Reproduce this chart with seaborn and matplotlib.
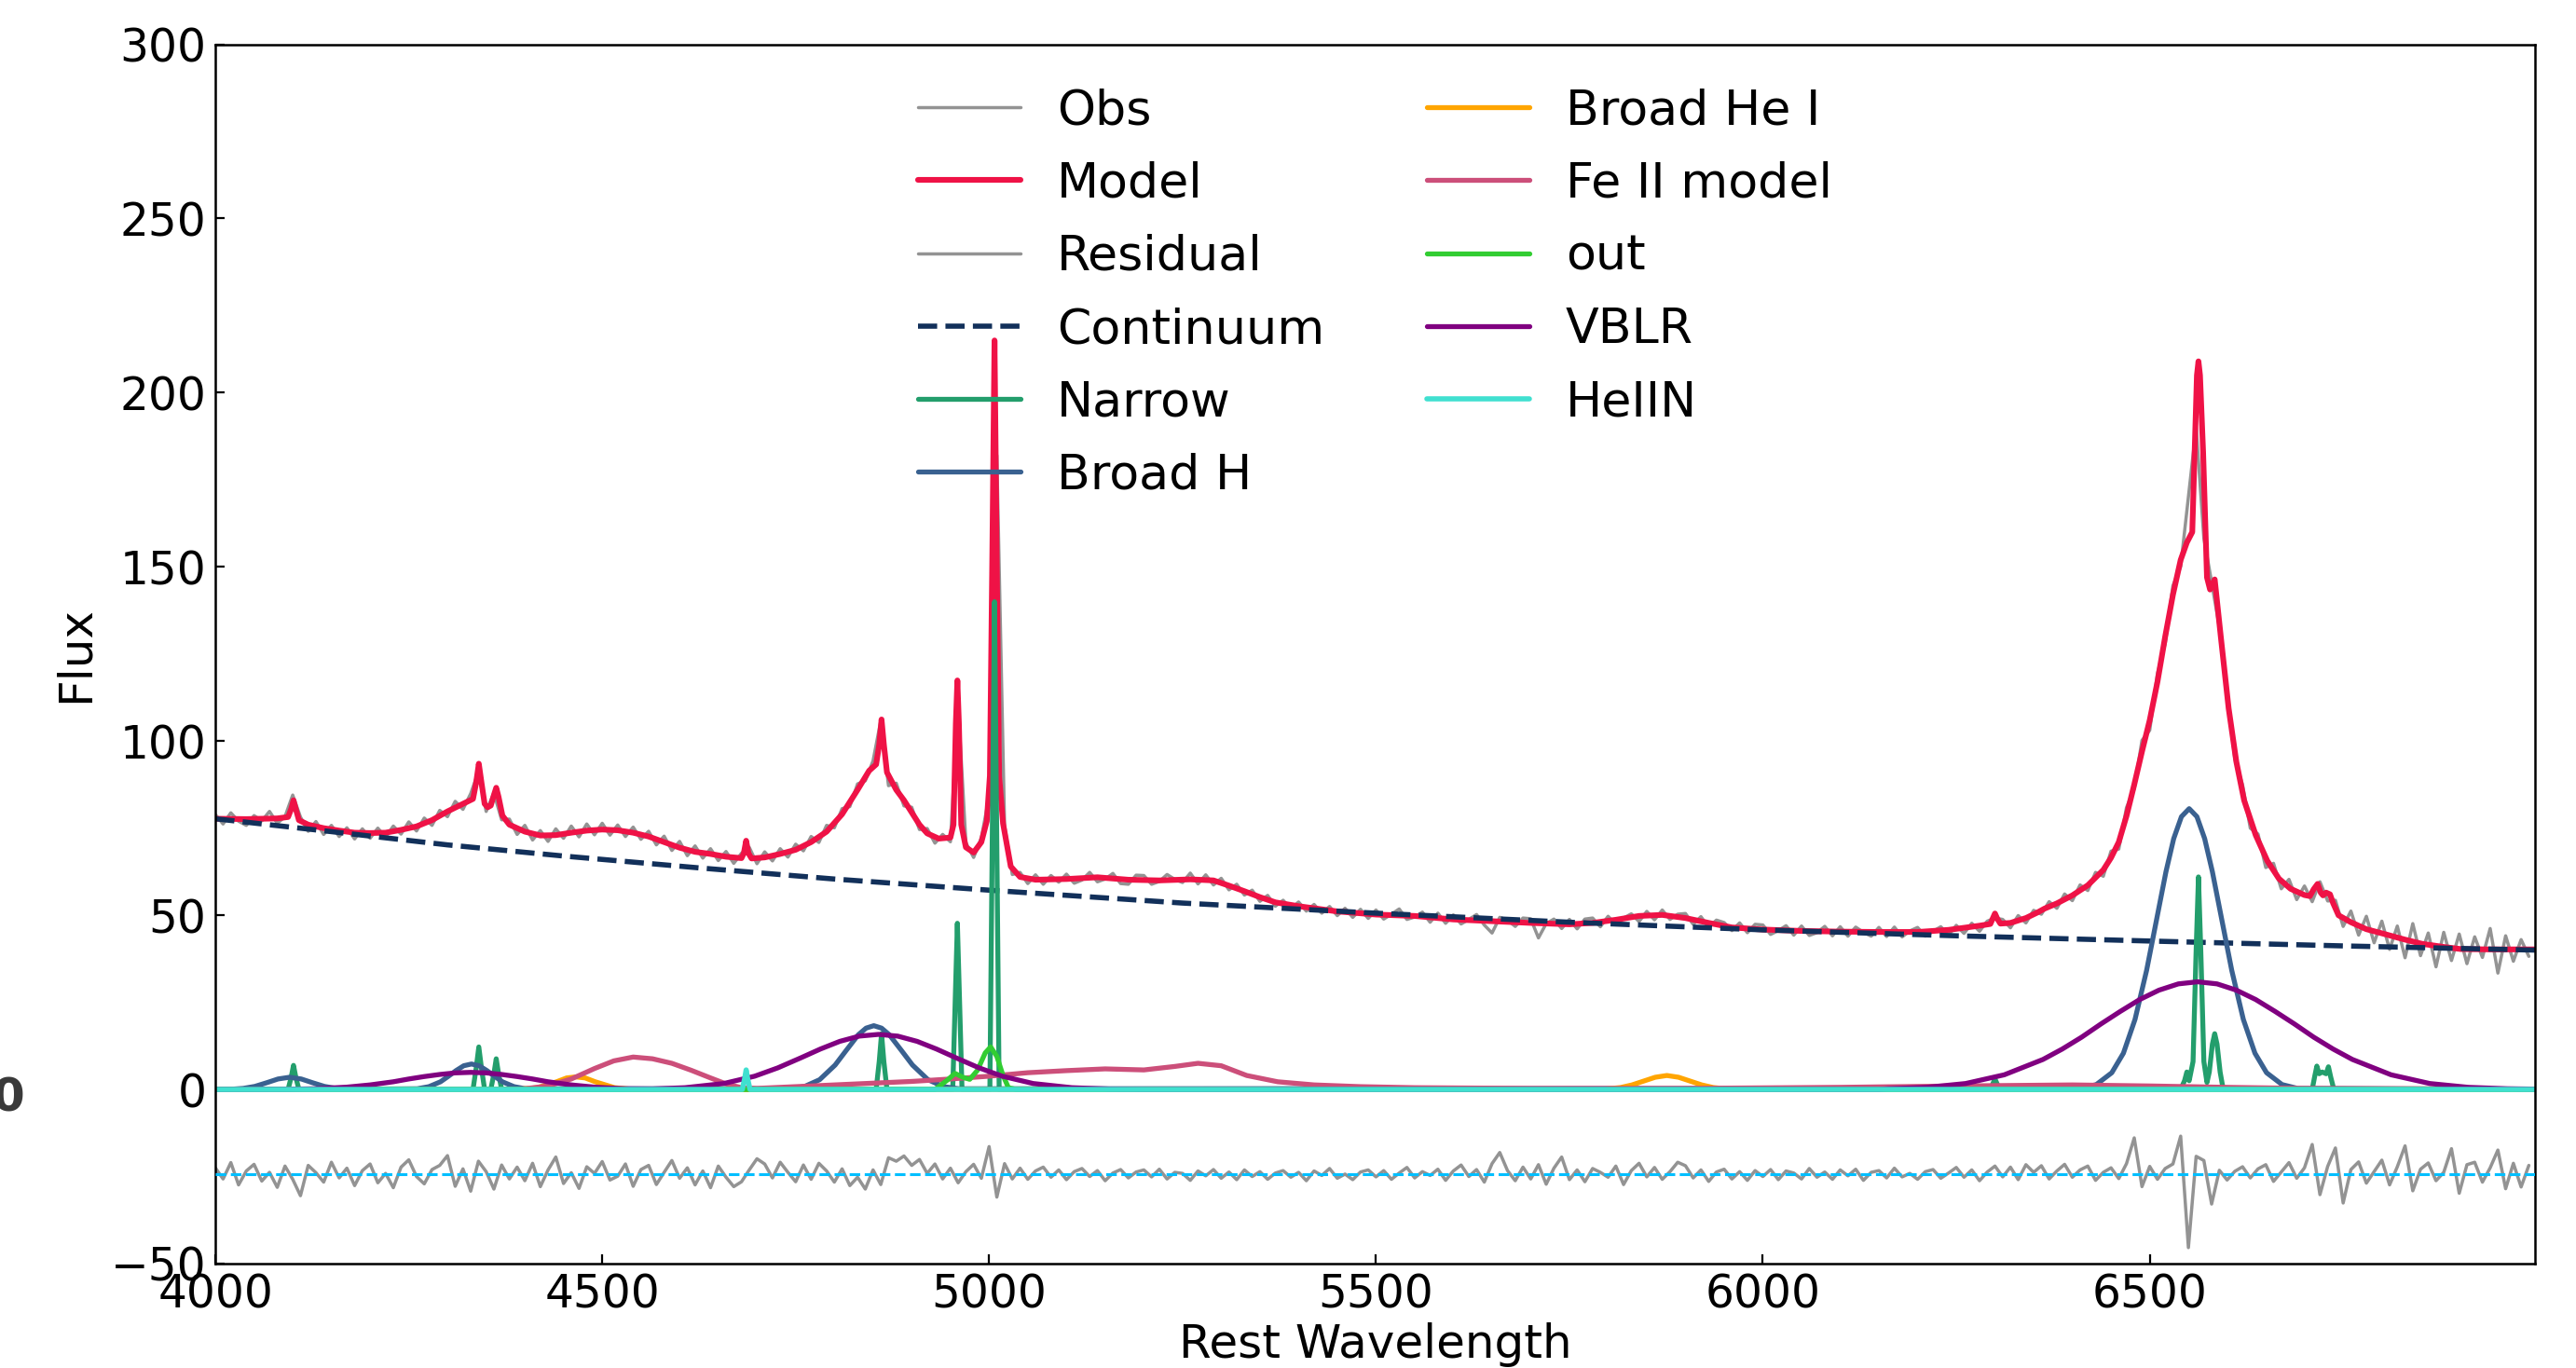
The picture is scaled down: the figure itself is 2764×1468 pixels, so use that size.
import numpy as np
import matplotlib
matplotlib.use("Agg")
import matplotlib.pyplot as plt
import seaborn as sns

# Observed spectrum, sampled every 10 A from 4000 to 6990
obs_wave = np.arange(4000, 7000, 10)
obs_flux = [
    78.9, 76.2, 79.4, 77.0, 75.8, 78.6, 77.1, 79.8, 76.4, 78.3,
    84.5, 78.2, 74.1, 76.9, 73.2, 75.8, 72.6, 75.1, 71.9, 74.8,
    72.1, 75.0, 72.4, 75.6, 73.3, 76.8, 74.2, 77.9, 75.8, 80.1,
    78.3, 82.7, 80.4, 84.9, 91.2, 79.8, 85.1, 77.4, 77.6, 73.2,
    75.8, 71.6, 74.3, 71.2, 74.8, 72.1, 75.6, 72.5, 76.2, 73.1,
    76.4, 73.0, 75.9, 72.6, 75.3, 71.8, 74.1, 70.2, 72.7, 68.6,
    71.2, 67.1, 69.9, 66.4, 69.1, 65.7, 68.3, 64.9, 67.8, 69.5,
    64.8, 68.2, 65.6, 69.1, 66.7, 70.4, 68.5, 72.6, 70.9, 75.8,
    75.1, 80.6, 81.2, 87.7, 88.6, 94.3, 105.8, 87.2, 87.9, 81.4,
    81.0, 74.6, 74.9, 70.7, 73.2, 71.1, 110.5, 70.8, 66.6, 72.2,
    84.1, 182.0, 75.6, 61.7, 62.3, 59.1, 61.6, 58.9, 61.4, 59.5,
    61.8, 59.2, 60.1, 62.3, 59.6, 60.4, 62.0, 59.1, 58.9, 61.5,
    61.4, 58.9, 59.7, 61.7, 60.3, 59.4, 62.1, 59.0, 61.6, 58.7,
    60.6, 57.3, 58.9, 55.8, 57.2, 54.0, 55.7, 52.6, 54.3, 51.9,
    53.8, 51.2, 53.1, 50.6, 52.5, 49.9, 52.0, 49.4, 51.7, 49.1,
    51.5, 48.9, 50.3, 51.8, 48.8, 49.5, 50.9, 48.0, 50.6, 47.7,
    50.1, 47.5, 48.8, 50.2, 47.2, 44.9, 49.4, 48.6, 46.8, 49.2,
    49.0, 43.5, 47.6, 48.9, 46.2, 48.8, 46.1, 48.9, 49.2, 46.7,
    49.7, 47.4, 49.2, 50.4, 48.2, 51.1, 48.7, 51.5, 48.8, 50.3,
    50.5, 47.4, 49.6, 46.5, 48.6, 47.9, 45.6, 47.8, 45.0, 47.4,
    47.2, 44.5, 45.6, 47.0, 44.3, 46.9, 44.2, 45.0, 46.8, 44.1,
    46.7, 44.0, 46.6, 45.1, 44.0, 46.5, 43.9, 46.6, 43.8, 45.5,
    46.5, 44.0, 45.4, 46.7, 44.3, 47.1, 44.8, 47.7, 45.4, 48.3,
    49.2, 48.8, 46.4, 49.9, 47.8, 51.4, 50.3, 53.9, 52.0, 56.1,
    54.2, 58.7, 57.1, 62.3, 61.2, 68.4, 69.0, 80.9, 86.3, 100.2,
    103.1, 119.4, 128.0, 144.6, 150.1, 170.0, 190.0, 158.2, 145.6, 132.7,
    114.3, 94.8, 87.4, 75.0, 73.3, 63.7, 64.9, 57.6, 60.3, 54.5,
    58.4, 53.9, 59.6, 54.1, 54.3, 46.8, 51.2, 44.3, 49.7, 42.1,
    48.3, 40.2, 46.9, 37.8, 47.6, 38.4, 44.9, 35.2, 45.1, 37.0,
    44.6, 36.1, 43.8, 37.9, 46.2, 33.4, 44.1, 36.8, 43.0, 38.2,
]

# Residual (obs - model) on the same grid, drawn shifted down
resid_flux = [
    1.9, -1.3, 3.4, -3.0, 1.0, 2.9, -1.9, 0.6, -3.7, 2.4,
    -1.4, -6.1, 2.6, 0.5, -2.2, 3.5, -1.0, 1.8, -3.2, 1.1,
    3.0, -2.4, 0.3, -3.8, 2.1, 4.2, -0.6, -2.7, 1.4, 2.6,
    5.4, -3.4, 1.6, -4.8, 3.8, 0.8, -4.2, 2.7, -1.3, 2.1,
    -1.8, 3.2, -3.5, 1.3, 5.0, -2.6, 0.5, -4.0, 2.2, 0.3,
    3.7, -1.6, -0.5, 3.0, -3.4, 1.4, 2.6, -2.9, 0.6, 4.0,
    -1.1, 1.9, -3.0, 1.0, -3.8, 2.4, -0.8, -3.5, -2.1, 1.3,
    4.5, 3.0, -1.0, 3.5, 0.6, -2.1, 2.7, -1.4, 3.2, 1.0,
    -2.2, 1.6, -3.2, -0.8, -4.2, 1.3, -2.9, 4.8, 3.8, 5.3,
    2.6, 4.3, 0.3, 3.0, -1.3, 1.8, -2.4, 0.8, 2.9, -1.1,
    8.0, -6.5, 3.1, -1.3, 1.8, -1.4, 1.0, 2.1, -0.8, 1.3,
    -1.5, 0.8, 1.7, -0.6, 1.1, -1.8, 0.4, 1.4, -1.0, 0.7,
    1.3, -0.7, 1.5, -1.3, 0.6, 0.3, -1.7, 1.0, -0.4, 1.4,
    -1.1, 0.7, -1.5, 1.3, -0.6, 0.8, -1.4, 0.4, 1.1, -0.8,
    0.6, -1.8, 1.0, -0.3, 1.7, -1.1, 0.1, -1.5, 0.7, 1.3,
    -0.7, 1.1, -1.4, 0.4, 2.0, -1.0, 0.8, -0.3, 1.5, -1.7,
    1.0, 2.7, -0.6, 1.4, -2.2, 3.1, 6.3, 1.1, -1.8, 2.1,
    -1.3, 2.8, -2.8, 1.8, 5.0, -1.5, 1.3, -2.1, 1.7, 0.6,
    -0.8, 2.4, -2.9, 1.1, 3.2, -0.7, 2.0, -1.4, 0.8, 3.5,
    2.5, -1.0, 1.3, -2.0, 0.7, 1.5, -1.3, 0.8, -1.7, 1.1,
    -0.6, 1.4, -1.5, 1.0, 0.4, -1.3, 1.7, -0.8, 0.7, -1.4,
    1.3, -0.4, 1.5, -1.7, 0.6, 1.1, -1.0, 1.8, -0.7, 0.3,
    -1.4, 0.8, 1.4, -1.1, 0.4, 2.0, -0.8, 1.3, -1.8, 0.7,
    2.4, -0.7, 2.1, -1.5, 2.8, 0.6, 2.5, -1.3, 1.0, 2.9,
    -0.8, 1.3, 2.4, -1.7, 0.6, 1.9, -1.2, 3.1, 10.5, -3.5,
    2.3, -1.4, 1.7, 3.0, 11.0, -21.0, 5.2, 4.0, -8.5, 1.2,
    -1.6, 0.9, 2.2, -1.0, 1.6, 2.8, -2.0, 0.7, 3.4, -1.1,
    1.9, 8.6, -5.8, 2.3, 7.6, -8.2, 1.4, 3.6, -2.5, 0.8,
    4.1, -3.0, 2.2, 8.2, -4.7, 1.5, 3.3, -1.8, 0.6, 7.4,
    -5.4, 2.8, 3.5, -2.2, 1.9, 7.0, -4.1, 3.2, -3.6, 2.6,
]
resid_offset = -24.4

# Best-fit model
model_wave = [
    4000, 4040, 4080, 4094, 4098, 4101, 4104, 4108, 4120, 4140,
    4160, 4180, 4200, 4220, 4240, 4260, 4280, 4300, 4320, 4333,
    4337, 4340.5, 4344, 4348, 4352, 4356, 4360, 4363, 4366, 4371,
    4380, 4400, 4420, 4440, 4460, 4480, 4500, 4520, 4540, 4560,
    4580, 4600, 4620, 4640, 4660, 4680, 4683, 4686, 4689, 4693,
    4710, 4730, 4750, 4770, 4790, 4810, 4830, 4845, 4854, 4858,
    4861, 4864, 4868, 4880, 4890, 4900, 4910, 4920, 4935, 4950,
    4954, 4957, 4959, 4961, 4964, 4970, 4980, 4990, 4997, 5001,
    5004, 5007, 5010, 5013, 5018, 5028, 5040, 5060, 5100, 5140,
    5180, 5220, 5260, 5290, 5310, 5330, 5350, 5370, 5400, 5450,
    5500, 5550, 5600, 5650, 5700, 5750, 5780, 5810, 5840, 5870,
    5900, 5930, 5960, 6000, 6050, 6100, 6150, 6200, 6240, 6280,
    6294, 6297, 6300, 6303, 6307, 6320, 6340, 6355, 6364, 6380,
    6400, 6420, 6440, 6450, 6460, 6470, 6480, 6490, 6500, 6510,
    6520, 6530, 6540, 6548, 6555, 6558, 6561, 6563, 6565, 6569,
    6574, 6578, 6584, 6588, 6592, 6602, 6612, 6622, 6637, 6652,
    6667, 6682, 6700, 6707, 6712, 6717, 6721, 6724, 6728, 6733,
    6737, 6744, 6760, 6780, 6802, 6830, 6852, 6880, 6902, 6940,
    6998,
]
model_flux = [
    77.7, 77.6, 77.8, 78.2, 80.5, 83.0, 80.5, 77.3, 76.0, 75.0,
    74.3, 73.7, 73.6, 73.7, 74.5, 75.5, 77.3, 79.8, 82.0, 83.4,
    88.0, 93.5, 88.0, 82.0, 81.0, 81.5, 84.5, 86.6, 84.0, 78.6,
    76.0, 74.0, 72.9, 73.0, 73.7, 74.3, 74.6, 74.4, 73.7, 72.6,
    71.0, 69.4, 68.2, 67.6, 66.8, 66.4, 67.8, 71.4, 67.8, 66.3,
    66.6, 67.6, 68.8, 71.0, 74.0, 79.0, 86.0, 91.5, 93.3, 99.0,
    106.2, 99.0, 91.0, 86.0, 83.0, 79.5, 76.0, 73.5, 72.0, 72.3,
    76.0, 105.0, 117.4, 105.0, 76.0, 69.5, 68.0, 71.0, 77.0, 90.0,
    150.0, 215.0, 150.0, 90.0, 76.4, 64.0, 61.0, 60.2, 60.4, 60.9,
    60.2, 60.0, 60.3, 60.0, 58.5, 56.9, 55.2, 53.7, 52.6, 51.1,
    50.2, 49.8, 48.8, 48.3, 47.8, 47.4, 47.8, 48.7, 49.8, 50.1,
    49.2, 47.8, 46.5, 45.9, 45.5, 45.3, 45.2, 45.2, 45.8, 47.0,
    47.5, 49.0, 50.5, 49.0, 47.6, 47.8, 49.2, 50.8, 51.9, 53.4,
    55.7, 58.6, 63.0, 66.5, 71.0, 78.5, 87.5, 97.0, 106.0, 117.0,
    130.0, 142.0, 152.0, 157.0, 160.0, 183.0, 205.0, 209.0, 205.0, 183.0,
    147.0, 143.5, 146.4, 138.0, 129.7, 109.4, 94.0, 83.0, 73.0, 65.6,
    60.5, 57.6, 55.8, 55.5, 57.5, 59.0, 56.5, 55.7, 56.5, 56.0,
    53.5, 50.0, 48.0, 46.0, 44.7, 43.0, 41.8, 40.9, 40.3, 40.2,
    40.2,
]

# Power-law continuum
cont_wave = [4000, 4150, 4300, 4450, 4625, 4800, 5000, 5250, 5500, 5750,
             6000, 6250, 6500, 6750, 6998]
cont_flux = [77.7, 74.0, 70.2, 67.0, 63.6, 60.4, 57.2, 53.5, 50.6, 48.0,
             45.8, 44.1, 42.6, 41.2, 40.0]

# Narrow lines
narrow_wave = [
    4000, 4094, 4098, 4101, 4104, 4108, 4333, 4337, 4340.5, 4344,
    4348, 4356, 4360, 4363, 4366, 4370, 4854, 4858, 4861, 4864,
    4868, 4953, 4956, 4959, 4962, 4965, 5001, 5004, 5007, 5010,
    5013, 6294, 6297, 6300, 6303, 6306, 6540, 6545, 6548, 6551,
    6556, 6560, 6563, 6566, 6570, 6574, 6577, 6581, 6584, 6587,
    6591, 6595, 6710, 6713, 6716, 6719, 6723, 6728, 6731, 6734,
    6738, 6998,
]
narrow_flux = [
    0, 0, 3.5, 6.9, 3.5, 0, 0, 6.0, 12.2, 6.0,
    0, 0, 4.5, 8.8, 4.5, 0, 0, 8.0, 16.0, 8.0,
    0, 0, 24.0, 47.7, 24.0, 0, 0, 70.0, 140.0, 70.0,
    0, 0, 1.5, 3.0, 1.5, 0, 0, 2.5, 5.0, 2.5,
    8.0, 40.0, 61.0, 40.0, 8.0, 2.0, 5.0, 13.0, 16.0, 13.0,
    5.0, 0, 0, 3.5, 6.7, 4.5, 5.0, 4.5, 6.5, 3.5,
    0, 0,
]

# Broad Balmer lines
broadh_wave = [
    4000, 4021, 4036, 4051, 4066, 4081, 4096, 4111, 4126, 4141,
    4156, 4171, 4261, 4276, 4291, 4301, 4311, 4321, 4331, 4341,
    4351, 4361, 4371, 4386, 4401, 4741, 4761, 4781, 4801, 4815,
    4831, 4841, 4851, 4861, 4871, 4887, 4901, 4921, 4941, 4961,
    6411, 6431, 6451, 6466, 6481, 6496, 6509, 6521, 6531, 6541,
    6551, 6561, 6571, 6581, 6593, 6606, 6621, 6636, 6651, 6671,
    6691, 6998,
]
broadh_flux = [
    0, 0.07, 0.3, 0.87, 1.9, 3.0, 3.5, 3.0, 1.9, 0.87,
    0.3, 0.07, 0.2, 0.8, 2.2, 3.75, 5.4, 6.8, 7.3, 6.8,
    5.4, 3.75, 2.2, 0.8, 0.2, 0.2, 0.8, 2.8, 7.0, 11.1,
    15.7, 17.6, 18.3, 17.6, 15.7, 11.1, 7.0, 2.8, 0.8, 0.2,
    0.3, 1.4, 4.8, 10.4, 20.1, 34.2, 48.9, 62.5, 72.0, 78.3,
    80.6, 78.3, 72.0, 62.5, 48.9, 34.2, 20.1, 10.4, 4.8, 1.4,
    0.3, 0,
]

# Broad He I
hei_wave = [4000, 4390, 4416, 4441, 4454, 4466, 4478, 4491, 4516, 4540,
            5770, 5796, 5816, 5831, 5846, 5861, 5876, 5891, 5906, 5921,
            5936, 5956, 5980, 6998]
hei_flux = [0, 0, 0.5, 2.2, 3.3, 3.6, 3.3, 2.2, 0.5, 0,
            0, 0.1, 0.54, 1.3, 2.4, 3.5, 4.0, 3.5, 2.4, 1.3,
            0.54, 0.1, 0, 0]

# Fe II template
feii_wave = [4000, 4380, 4400, 4430, 4460, 4490, 4515, 4540, 4565, 4590,
             4615, 4640, 4660, 4680, 4700, 4750, 4800, 4850, 4900, 4950,
             5000, 5050, 5100, 5150, 5200, 5240, 5270, 5300, 5333, 5373,
             5420, 5480, 5550, 5700, 5900, 6100, 6250, 6400, 6500, 6600,
             6700, 6998]
feii_flux = [0, 0, 0.2, 1.0, 3.0, 6.0, 8.2, 9.3, 8.8, 7.5,
             5.5, 3.3, 1.6, 0.5, 0.3, 0.8, 1.3, 1.8, 2.3, 3.0,
             3.8, 4.8, 5.4, 5.9, 5.6, 6.6, 7.5, 6.8, 4.0, 2.2,
             1.3, 0.8, 0.5, 0.3, 0.3, 0.6, 1.0, 1.3, 1.0, 0.6,
             0.3, 0.1]

# [OIII] outflow
out_wave = [4000, 4930, 4945, 4956, 4966, 4975, 4985, 4995, 5002, 5010,
            5018, 5025, 5035, 6998]
out_flux = [0, 0, 2.5, 4.6, 3.5, 2.9, 5.5, 10.5, 12.2, 9.5,
            4.0, 0.5, 0, 0]

# Very broad line region
vblr_wave = [
    4000, 4090, 4130, 4170, 4200, 4230, 4250, 4270, 4290, 4310,
    4330, 4350, 4370, 4390, 4410, 4430, 4460, 4490, 4530, 4565,
    4607, 4657, 4697, 4727, 4757, 4782, 4807, 4832, 4857, 4882,
    4907, 4932, 4957, 4987, 5017, 5057, 5107, 5157, 5200, 6150,
    6162, 6212, 6262, 6312, 6362, 6387, 6412, 6437, 6462, 6487,
    6512, 6537, 6562, 6587, 6612, 6637, 6662, 6687, 6712, 6737,
    6762, 6812, 6862, 6912, 6962, 6998,
]
vblr_flux = [
    0, 0.05, 0.2, 0.66, 1.3, 2.2, 3.0, 3.7, 4.3, 4.75,
    4.9, 4.75, 4.3, 3.7, 3.0, 2.2, 1.3, 0.66, 0.2, 0.15,
    0.5, 1.7, 3.8, 6.2, 9.1, 11.6, 13.8, 15.3, 15.8, 15.3,
    13.8, 11.6, 9.1, 6.2, 3.8, 1.7, 0.5, 0.1, 0, 0,
    0.2, 0.6, 1.7, 4.2, 8.6, 11.6, 15.0, 18.8, 22.4, 25.8,
    28.5, 30.3, 30.9, 30.3, 28.5, 25.8, 22.4, 18.8, 15.0, 11.6,
    8.6, 4.2, 1.7, 0.6, 0.2, 0.1,
]

# Narrow He II 4686
heii_wave = [4000, 4681, 4684, 4686, 4688, 4691, 6998]
heii_flux = [0, 0, 3.0, 5.6, 3.0, 0, 0]

sns.set_style("ticks")
plt.rcParams["font.family"] = ["DejaVu Sans"]
plt.rcParams["axes.edgecolor"] = "black"
plt.rcParams["text.color"] = "black"
plt.rcParams["axes.labelcolor"] = "black"
plt.rcParams["xtick.color"] = "black"
plt.rcParams["ytick.color"] = "black"

fig = plt.figure(figsize=(13.82, 7.34), dpi=200)
ax = fig.add_axes([0.0836, 0.0763, 0.9005, 0.8913])

resid_plot = np.array(resid_flux) + resid_offset
kw = dict(ax=ax, estimator=None, sort=False)

sns.lineplot(x=obs_wave, y=obs_flux, color="#939393", lw=1.25, label="Obs", **kw)
sns.lineplot(x=model_wave, y=model_flux, color="#ef1246", lw=2.2, label="Model", **kw)
sns.lineplot(x=obs_wave, y=resid_plot, color="#939393", lw=1.25, label="Residual", **kw)
sns.lineplot(x=cont_wave, y=cont_flux, color="#12305a", lw=2.0, ls="--", label="Continuum", **kw)
sns.lineplot(x=narrow_wave, y=narrow_flux, color="#239e6c", lw=1.9, label="Narrow", **kw)
sns.lineplot(x=broadh_wave, y=broadh_flux, color="#3a6190", lw=1.9, label="Broad H", **kw)
sns.lineplot(x=hei_wave, y=hei_flux, color="orange", lw=1.9, label="Broad He I", **kw)
sns.lineplot(x=feii_wave, y=feii_flux, color="#cc4f7a", lw=1.9, label="Fe II model", **kw)
sns.lineplot(x=out_wave, y=out_flux, color="limegreen", lw=1.9, label="out", **kw)
sns.lineplot(x=vblr_wave, y=vblr_flux, color="purple", lw=1.9, label="VBLR", **kw)
sns.lineplot(x=heii_wave, y=heii_flux, color="turquoise", lw=2.0, label="HeIIN", **kw)
ax.axhline(resid_offset, color="deepskyblue", ls="--", lw=1.1, zorder=5)

ax.set_xlim(4000, 6998)
ax.set_ylim(-50, 300)
ax.set_xticks([4000, 4500, 5000, 5500, 6000, 6500])
ax.set_yticks([-50, 0, 50, 100, 150, 200, 250, 300])
ax.tick_params(direction="in", labelsize=17.5, length=3.5, width=0.8,
               bottom=True, left=True, top=False, right=False)
for s in ax.spines.values():
    s.set_visible(True)
    s.set_linewidth(0.9)
ax.set_xlabel("Rest Wavelength", fontsize=18, labelpad=2)
ax.set_ylabel("Flux", fontsize=18, labelpad=5)

ax.legend(loc="upper center", ncol=2, frameon=False, fontsize=18.8,
          handlelength=2.1, handletextpad=0.75, columnspacing=2.1,
          labelspacing=0.54)

# clipped label left at the image edge
fig.text(0.0033, 0.1975, "0", ha="center", va="center", fontsize=18,
         color="#3a3a3a", fontweight="bold")

fig.savefig("out.png", dpi=200)
